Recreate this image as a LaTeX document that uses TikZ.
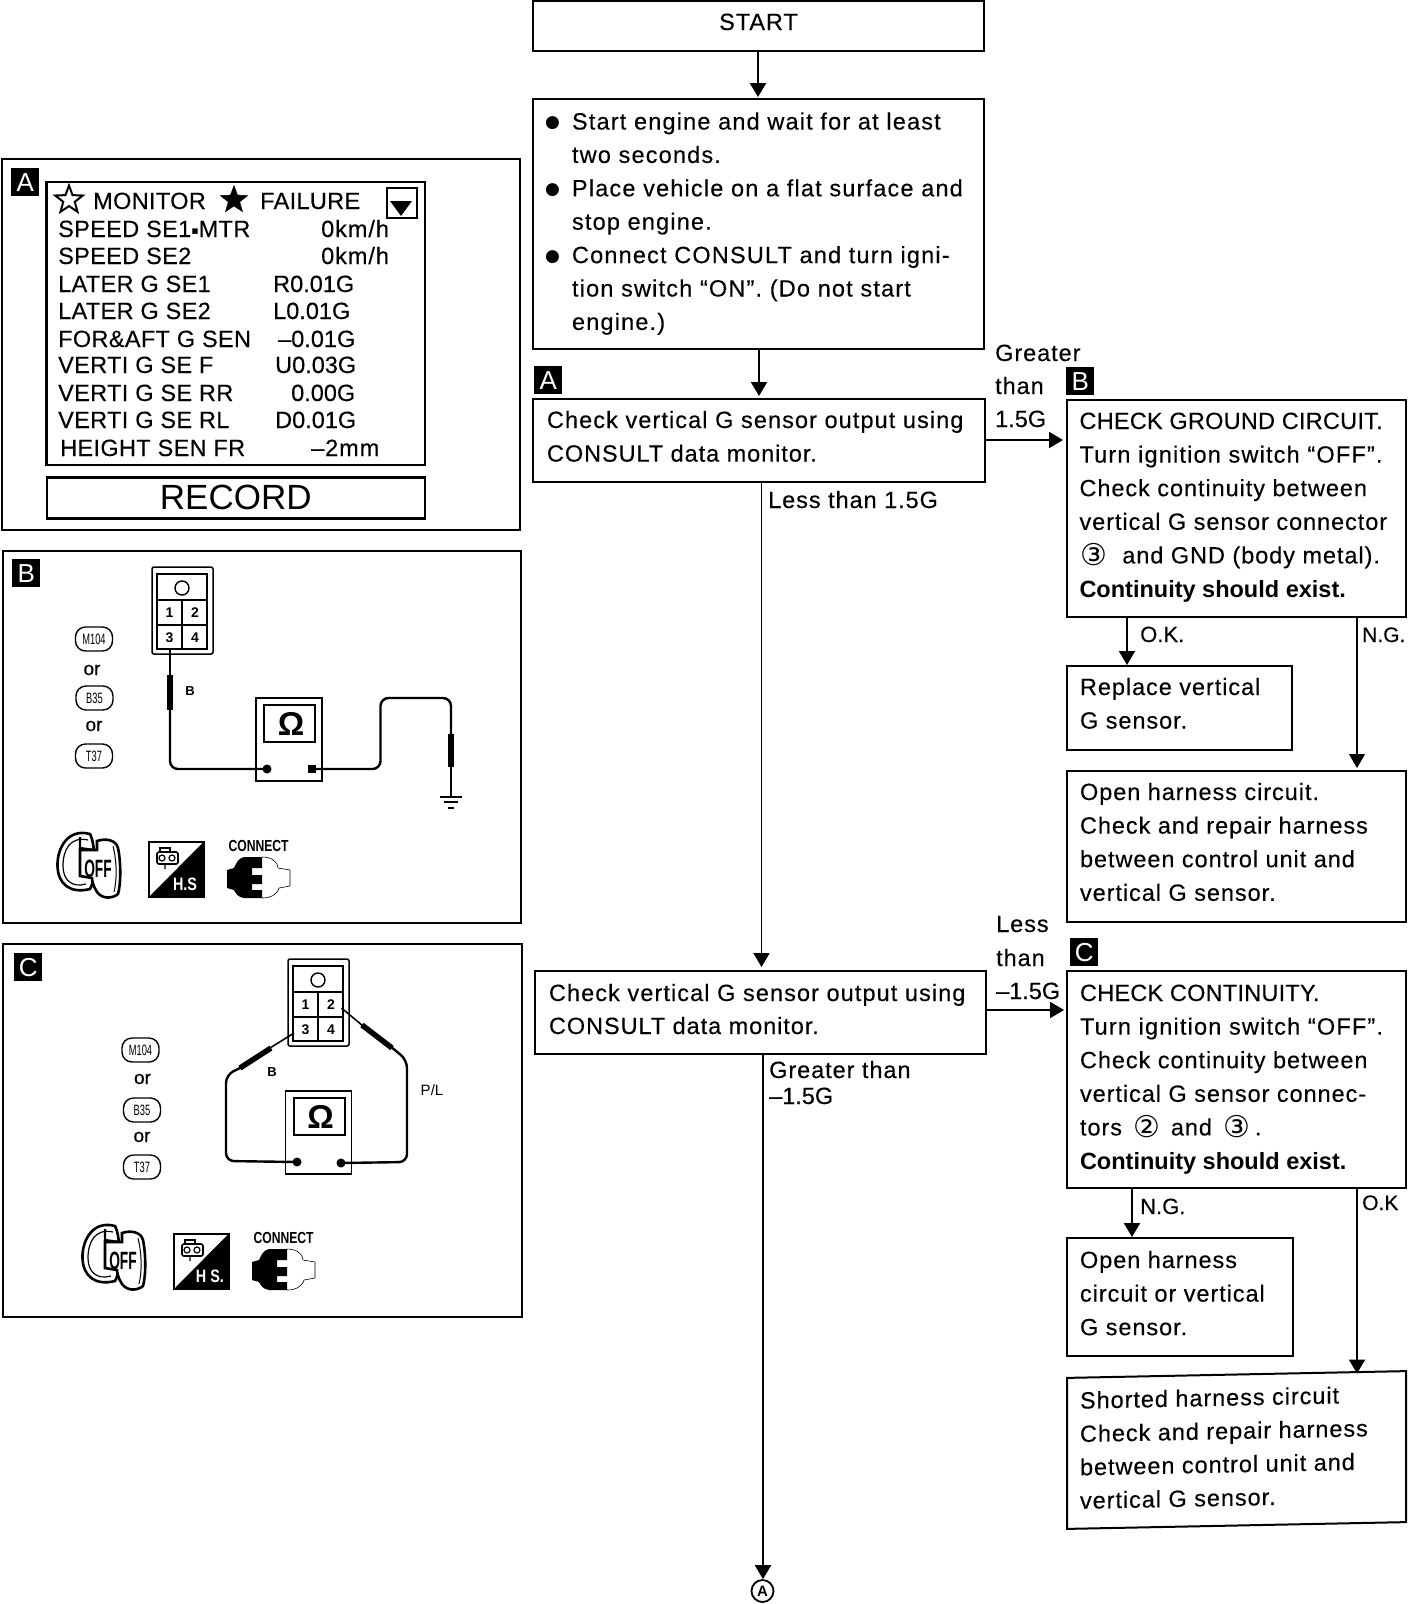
\documentclass[tikz,border=0pt]{standalone}
\usepackage{fontspec}
\usepackage{graphicx}
\usetikzlibrary{arrows.meta,shapes.geometric,calc}
\setmainfont[LetterSpace=4,FakeBold=0.25]{Liberation Sans}
\newfontfamily\plainf{Liberation Sans}
\newfontfamily\tightf[FakeBold=0.25]{Liberation Sans}
\newfontfamily\scrf[LetterSpace=1.5,FakeBold=0.25]{Liberation Sans}
\newfontfamily\lsa[LetterSpace=5,FakeBold=0.25]{Liberation Sans}
\newfontfamily\lsb[LetterSpace=4.6,FakeBold=0.25]{Liberation Sans}
\newfontfamily\capsf[LetterSpace=1,FakeBold=0.25]{Liberation Sans}
\newfontfamily\djf{DejaVu Sans}
\newcommand\flowbox[7][]{%
  \node[boxst,#1] (#2) at (#3) {\parbox[t][#5pt][t]{#4pt}{\fontsize{23.5}{#7}\selectfont
    \baselineskip=#7pt\leftskip=14pt\rightskip=0pt plus 1fil\parindent=0pt\pretolerance=10000 #6}};}
\newcommand\lbl[4][]{\node[lblst] (#2) at (#3) {#4};}
\newcommand\hd[1]{\rule{0pt}{#1pt}}
\newcommand\tagnode[3]{\node[tagst] (#1) at (#2) {\scalebox{0.62}[1]{#3}};}
\newcommand\circd[1]{\smash{\raisebox{-2.5pt}{\djf\fontsize{30}{30}\selectfont #1}}}
\newcommand\blt{\hspace*{-2pt}\makebox[27pt][l]{\raisebox{2pt}{\djf\fontsize{17}{17}\selectfont ●}}}
\newcommand\must{{\plainf\bfseries Continuity should exist.}}
\newcommand\connblock[2]{%
 \begin{scope}[shift={(#1)}]
  \draw[line width=1.5pt,rounded corners=2pt] (152,567) rectangle (213,654);
  \draw[line width=2.6pt] (157,574) rectangle (207,649);
  \draw[line width=2pt] (157,600) -- (207,600) (157,625) -- (207,625) (182,600) -- (182,649);
  \node[draw,circle,line width=1.4pt,minimum size=14pt,inner sep=0pt] (#2o) at (182,588) {};
  \node[digit] (#2d1) at (169.5,613) {1};
  \node[digit] (#2d2) at (195,613) {2};
  \node[digit] (#2d3) at (169.5,638) {3};
  \node[digit] (#2d4) at (195,638) {4};
 \end{scope}}
\newcommand\meterblock[2]{%
 \begin{scope}[shift={(#1)}]
  \draw[line width=1.2pt] (256,698) rectangle (322,781);
  \draw[line width=1.6pt] (264,705) rectangle (315,742);
  \node[inner sep=0pt] (#2om) at (291,724) {\plainf\bfseries\fontsize{33}{33}\selectfont Ω};
 \end{scope}}
\newcommand\iconset[3]{%
 \begin{scope}[shift={(#1)}]
  % key
  \draw[line width=2.6pt,fill=white] (90,834) .. controls (68,828) and (57,848) .. (57.5,866)
     .. controls (58,884) and (70,894) .. (90,889) .. controls (96,880) and (96,845) .. (90,834) -- cycle;
  \draw[line width=1.2pt] (88,840) .. controls (70,836) and (63,850) .. (63,866)
     .. controls (63,880) and (72,888) .. (86,884);
  \draw[line width=2.6pt,fill=white] (97,841) .. controls (106,838) and (116,840) .. (118,848)
     .. controls (121,862) and (121,884) .. (118,894) .. controls (112,899) and (102,899) .. (97,892)
     .. controls (93,886) and (92,880) .. (92,878) -- (80,876) -- (80,850) -- (97,850) -- cycle;
  \draw[line width=1pt] (113,846) .. controls (117,862) and (117,880) .. (114,892);
  \draw[line width=2.2pt] (80,837) -- (80,848) -- (95,850);
  \node[inner sep=0pt,font=\plainf\bfseries] (#2off) at (98,869) {\fontsize{25}{25}\selectfont\scalebox{0.55}[1]{OFF}};
  % H.S panel
  \draw[line width=2pt,fill=white] (149,842) rectangle (203.5,897);
  \fill (203.5,842) -- (203.5,897) -- (149,897) -- cycle;
  \draw[line width=1.6pt,rounded corners=2pt] (157,852) rectangle (178,864);
  \draw[line width=1.2pt] (160,852) -- (160,848) -- (170,848) -- (170,852);
  \draw[line width=1.2pt] (162,858) circle (3pt) (172,858) circle (3pt) (165,864) -- (165,869);
  \node[inner sep=0pt,text=white,font=\plainf\bfseries] (#2hs) at (185,884.5) {\fontsize{18}{18}\selectfont\scalebox{0.8}[1]{#3}};
  % plug
  \node[inner sep=0pt,font=\plainf\bfseries] (#2con) at (258.6,846) {\fontsize{16}{16}\selectfont\scalebox{0.76}[1]{CONNECT}};
  \fill (262,857) -- (244,857) .. controls (238,858) and (236,864) .. (234,868) -- (227,870) -- (227,888)
    -- (234,890) .. controls (236,894) and (238,897) .. (244,898) -- (262,898) -- (262,890) -- (252,890) -- (252,884)
    -- (262,884) -- (262,875) -- (252,875) -- (252,868) -- (262,868) -- cycle;
  \draw[line width=0.6pt] (262,857) .. controls (270,857) and (277,860) .. (278,868) -- (290,870) -- (290,886)
    -- (279,888) .. controls (277,895) and (270,898) .. (262,898);
 \end{scope}}
\tikzset{
  x=1pt,y=-1pt,
  boxst/.style={draw,line width=2pt,anchor=north west,inner sep=0pt,outer sep=0pt},
  lblst/.style={anchor=base west,inner sep=0pt,font=\fontsize{23.5}{28}\selectfont},
  scr/.style={anchor=base west,inner sep=0pt,font=\scrf\fontsize{23.5}{28}\selectfont},
  val/.style={anchor=base west,inner sep=0pt,font=\tightf\fontsize{23.5}{28}\selectfont},
  valw/.style={anchor=base west,inner sep=0pt,font=\fontsize{23.5}{28}\selectfont},
  badge/.style={fill=black,text=white,inner sep=0pt,minimum size=28pt,anchor=north west,font=\plainf\fontsize{26}{26}\selectfont},
  panel/.style={draw,line width=2pt,anchor=north west,inner sep=0pt},
  arr/.style={-{Triangle[length=14pt,width=16pt]},line width=2pt},
  digit/.style={inner sep=0pt,font=\plainf\bfseries\fontsize{14}{14}\selectfont},
  tagst/.style={draw,line width=1.4pt,rounded corners=10pt,minimum width=37pt,minimum height=24pt,inner sep=0pt,font=\plainf\fontsize{15}{15}\selectfont},
  orst/.style={inner sep=0pt,font=\tightf\fontsize{19}{19}\selectfont},
  wire/.style={line width=2.4pt,rounded corners=8pt},
  probe/.style={line width=5.5pt},
  lead/.style={line width=1.6pt},
  small/.style={inner sep=0pt,font=\plainf\bfseries\fontsize{13}{13}\selectfont},
}
\begin{document}
\begin{tikzpicture}
\useasboundingbox (0,0) rectangle (1408,1604);
\fill[white] (0,0) rectangle (1408,1604);

% ---------- flow chart ----------
\flowbox{start}{533,1}{451}{50}{\leftskip=0pt\centering\hd{29}START}{33.4}
\flowbox{first}{533,99}{451}{250}{\lsa\hd{30.5}\blt Start engine and wait for at least\\
 \hspace*{25pt}two seconds.\\
 \blt Place vehicle on a flat surface and\\
 \hspace*{25pt}stop engine.\\
 \blt Connect CONSULT and turn igni-\\
 \hspace*{25pt}tion switch “ON”. (Do not start\\
 \hspace*{25pt}engine.)}{33.4}
\node[badge] (bdgA) at (534,366) {A};
\flowbox{chkA}{533,399}{452}{83}{\hd{29}{\lsb Check vertical G sensor output using}\\CONSULT data monitor.}{33.6}
\flowbox{chkB}{535,971}{451}{83}{\hd{30}{\lsb Check vertical G sensor output using}\\CONSULT data monitor.}{33}
\node[badge] (bdgB) at (1066,367) {B};
\flowbox{gnd}{1067,400}{339}{217}{\leftskip=12.5pt\hd{29}{\capsf CHECK GROUND CIRCUIT.}\\{\lsa Turn ignition switch “OFF”.}\\Check continuity between\\vertical G sensor connector\\
 \hspace*{1pt}\circd{③}\ \ and GND (body metal).\\\must}{33.6}
\flowbox{repl}{1067,666}{225}{84}{\leftskip=13pt\hd{29}Replace vertical\\G sensor.}{33.6}
\flowbox{openA}{1067,771}{339}{151}{\leftskip=13pt\hd{29}Open harness circuit.\\Check and repair harness\\between control unit and\\vertical G sensor.}{33.6}
\node[badge] (bdgC) at (1070,938) {C};
\flowbox{cont}{1067,971}{339}{217}{\leftskip=13pt\hd{30}{\capsf CHECK CONTINUITY.}\\{\lsa Turn ignition switch “OFF”.}\\Check continuity between\\vertical G sensor connec-\\
 tors\hspace{11pt}\circd{②}\hspace{11pt}and\hspace{12pt}\circd{③}\hspace{4pt}.\\\must}{33.6}
\flowbox{openB}{1067,1238}{226}{118}{\leftskip=13pt\hd{30}Open harness\\circuit or vertical\\G sensor.}{33.6}
\flowbox[yslant=0.02,anchor=center]{shrt}{1236.5,1450}{339}{151}{\leftskip=13pt\hd{31}Shorted harness circuit\\Check and repair harness\\between control unit and\\vertical G sensor.}{33.4}

\node[draw,circle,line width=1.8pt,minimum size=22pt,inner sep=0pt,font=\plainf\bfseries\fontsize{15}{15}\selectfont] (endA) at (762.5,1591) {A};

\coordinate (xa) at (758,0);
\coordinate (xb) at (759,0);
\coordinate (xc) at (761.5,0);
\coordinate (xd) at (763,0);
\coordinate (xe) at (1127,0);
\coordinate (xf) at (1357,0);
\coordinate (xg) at (1132,0);
\coordinate (ya) at (0,440);
\coordinate (yb) at (0,1010);
\draw[arr,line width=2.6pt] (start.south -| xa) -- ($(first.north -| xa)+(0,-2)$);
\draw[arr] (first.south -| xb) -- ($(chkA.north -| xb)+(0,-3)$);
\draw[arr,line width=1.6pt] (chkA.south -| xc) -- ($(chkB.north -| xc)+(0,-4)$);
\draw[arr,line width=2.4pt] (chkB.south -| xd) -- (endA.north -| xd);
\draw[arr] (chkA.east |- ya) -- ($(gnd.west |- ya)+(-4,0)$);
\draw[arr] (chkB.east |- yb) -- ($(cont.west |- yb)+(-3,0)$);
\draw[arr] (gnd.south -| xe) -- ($(repl.north -| xe)+(0,-1)$);
\draw[arr,line width=1.2pt] (gnd.south -| xf) -- ($(openA.north -| xf)+(0,-3)$);
\draw[arr,line width=2.2pt] (cont.south -| xg) -- ($(openB.north -| xg)+(0,-1)$);
\draw[arr,line width=2pt] (cont.south -| xf) -- ($(shrt.north -| xf)+(0,-1)$);

\lbl{gr1}{995,361}{Greater}
\lbl{gr2}{995,394}{than}
\lbl{gr3}{995,427}{\tightf 1.5G}
\lbl{ls1}{768,508}{Less than 1.5G}
\lbl{ok1}{1140,642}{\tightf\fontsize{22}{26}\selectfont O.K.}
\lbl{ng1}{1362,642}{\tightf\fontsize{21}{26}\selectfont N.G.}
\lbl{ls2}{996,932}{Less}
\lbl{ls3}{996,966}{than}
\lbl{ls4}{996,999}{\tightf –1.5G}
\lbl{gt1}{769,1078}{Greater than}
\lbl{gt2}{769,1104}{\tightf –1.5G}
\lbl{ng2}{1140,1214}{\tightf\fontsize{22}{26}\selectfont N.G.}
\lbl{ok2}{1362,1210}{\tightf\fontsize{21}{26}\selectfont O.K}

% ---------- panel A ----------
\node[panel,minimum width=518pt,minimum height=371pt] (pA) at (1,158) {};
\node[badge] (pAb) at (11,168) {A};
\draw[line width=2.6pt] (46.5,182) rectangle (425,465);
\node[draw,star,star points=5,star point ratio=2.4,line width=2pt,minimum size=29pt,inner sep=0pt] (st1) at (69,200) {};
\node[draw,fill=black,star,star points=5,star point ratio=2.4,minimum size=29pt,inner sep=0pt] (st2) at (234,200) {};
\node[scr] (mon) at (93,209) {MONITOR};
\node[scr] (fai) at (260,209) {FAILURE};
\draw[line width=2.6pt] (387,188) rectangle (417,218);
\fill (390,201) -- (412,201) -- (401,216) -- cycle;
\node[scr] (r1) at (58,237) {SPEED SE1\raisebox{3pt}{\djf\fontsize{11}{11}\selectfont ▪}MTR};
\node[scr] (r2) at (58,264) {SPEED SE2};
\node[scr] (r3) at (58,292) {LATER G SE1};
\node[scr] (r4) at (58,319) {LATER G SE2};
\node[scr] (r5) at (58,347) {FOR\&AFT G SEN};
\node[scr] (r6) at (58,373) {VERTI G SE F};
\node[scr] (r7) at (58,401) {VERTI G SE RR};
\node[scr] (r8) at (58,428) {VERTI G SE RL};
\node[scr] (r9) at (60,456) {HEIGHT SEN FR};
\node[valw] (v1) at (321,237) {0km/h};
\node[valw] (v2) at (321,264) {0km/h};
\node[val] (v3) at (273,292) {R0.01G};
\node[val] (v4) at (273,319) {L0.01G};
\node[val] (v5) at (278,347) {–0.01G};
\node[val] (v6) at (275,373) {U0.03G};
\node[val] (v7) at (291,401) {0.00G};
\node[val] (v8) at (275,428) {D0.01G};
\node[valw] (v9) at (311,456) {–2mm};
\node[draw,line width=2.6pt,anchor=north west,minimum width=378pt,minimum height=41pt,inner sep=0pt,font=\plainf\fontsize{35}{35}\selectfont] (rec) at (45.5,476) {RECORD\hspace{23pt}};

% ---------- panel B ----------
\node[panel,minimum width=518pt,minimum height=372pt] (pB) at (2,550) {};
\node[badge] (pBb) at (12,559) {B};
\tagnode{bt1}{94,639}{M104}
\node[orst] (bo1) at (92,670) {or};
\tagnode{bt2}{94.5,698}{B35}
\node[orst] (bo2) at (94,726) {or};
\tagnode{bt3}{94,756}{T37}
\connblock{0,0}{bc}
\meterblock{0,0}{bm}
\node[small] (bB) at (190,691) {B};
\draw[lead] (170,649) -- (170,676);
\draw[probe] (170,675) -- (170,710);
\draw[wire] (170,708) -- (170,769) -- (267,769);
\draw[wire] (312,769) -- (380.5,769) -- (380.5,698) -- (451,698) -- (451,736);
\draw[probe] (451,734) -- (451,767);
\draw[lead] (451,766) -- (451,797);
\fill (267,769) circle (4.5pt);
\fill (308,765) rectangle (316,773);
\draw[line width=2pt] (440,797) -- (462,797) (444,802) -- (458,802);
\draw[line width=1.2pt] (448,808) -- (454,808);
\iconset{0,0}{bi}{H.S}

% ---------- panel C ----------
\node[panel,minimum width=519pt,minimum height=373pt] (pC) at (2,943) {};
\node[badge] (pCb) at (14,953) {C};
\tagnode{ct1}{140.5,1050}{M104}
\node[orst] (co1) at (142.5,1079) {or};
\tagnode{ct2}{142,1110}{B35}
\node[orst] (co2) at (142,1137) {or};
\tagnode{ct3}{142,1167}{T37}
\connblock{136,392}{cc}
\meterblock{29.7,393}{cm}
\node[small] (cB) at (272,1072) {B};
\node[small,font=\plainf\fontsize{15}{15}\selectfont] (cPL) at (432,1090) {P/L};
\draw[lead] (294,1033) -- (270,1048);
\draw[probe] (271,1048) -- (240,1068);
\draw[wire] (242,1067) -- (226,1075) -- (226,1161) -- (297,1162);
\draw[lead] (341.5,1008) -- (363,1026);
\draw[probe] (362,1025) -- (392,1048);
\draw[wire] (390,1046) -- (407,1060) -- (407,1162) -- (341,1163);
\fill (297,1162) circle (4.5pt);
\fill (341,1163) circle (4.5pt);
\iconset{25,392}{ci}{H S.}
\end{tikzpicture}
\end{document}
